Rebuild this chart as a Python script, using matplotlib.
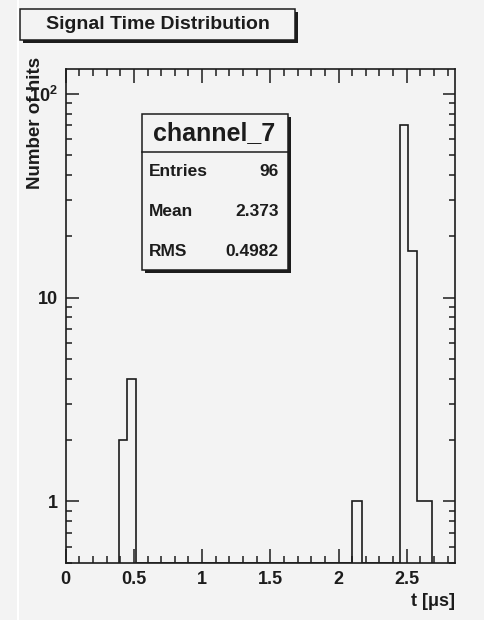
import matplotlib.pyplot as plt
import numpy as np
from matplotlib.patches import Rectangle
from matplotlib.lines import Line2D
from matplotlib.ticker import MultipleLocator, LogLocator, FixedLocator, FixedFormatter, NullFormatter

# histogram (bin edges in microseconds, counts per bin)
bin_edges = [0.391, 0.452, 0.515, 2.101, 2.170, 2.451, 2.512, 2.573, 2.628, 2.683]
bin_counts = [2, 4, 0, 1, 0, 70, 17, 1, 1]

hist_name = "channel_7"
stat_names = ["Entries", "Mean", "RMS"]
stat_values = ["96", "2.373", "0.4982"]

y_ticks = [1, 10, 100]
y_ticklabels = ["1", "10", r"10$^{2}$"]
x_min, x_max = 0.0, 2.854
y_min, y_max = 0.5, 132.0

W, H = 484, 620
BG = "#f3f3f3"
INK = "#1c1c1c"

plt.rcParams["font.family"] = ["Liberation Sans", "DejaVu Sans"]
plt.rcParams["font.weight"] = "bold"
plt.rcParams["mathtext.fontset"] = "custom"
plt.rcParams["mathtext.rm"] = "Liberation Sans:bold"
plt.rcParams["mathtext.default"] = "rm"


def fx(px):
    return px / W


def fy(py):
    return 1 - py / H


def boxed(fig, x0, y0, x1, y1, shadow=3):
    # ROOT style pave: dark shadow to the lower right, then the framed box
    fig.patches.append(Rectangle((fx(x0 + shadow), fy(y1 + shadow)), fx(x1 - x0), (y1 - y0) / H,
                                 transform=fig.transFigure, facecolor=INK, edgecolor=INK, lw=0))
    fig.patches.append(Rectangle((fx(x0), fy(y1)), fx(x1 - x0), (y1 - y0) / H,
                                 transform=fig.transFigure, facecolor=BG, edgecolor=INK, lw=1.1))


fig = plt.figure(figsize=(W / 100, H / 100), dpi=100, facecolor=BG)
fig.lines.append(Line2D([fx(18), fx(18)], [0, 1], transform=fig.transFigure, color="white", lw=1.5))

ax = fig.add_axes([fx(65.7), fy(562.7), fx(455 - 65.7), (562.7 - 69.3) / H])
ax.set_facecolor(BG)

counts = np.array(bin_counts, dtype=float)
counts = np.where(counts > 0, counts, y_min)
ax.stairs(counts, bin_edges, baseline=y_min, color=INK, lw=1.2)

ax.set_yscale("log")
ax.set_xlim(x_min, x_max)
ax.set_ylim(y_min, y_max)

ax.xaxis.set_major_locator(MultipleLocator(0.5))
ax.xaxis.set_minor_locator(MultipleLocator(0.1))
ax.xaxis.set_major_formatter(plt.FuncFormatter(lambda v, p: f"{v:g}"))
ax.yaxis.set_major_locator(FixedLocator(y_ticks))
ax.yaxis.set_major_formatter(FixedFormatter(y_ticklabels))
ax.yaxis.set_minor_locator(LogLocator(base=10, subs=np.arange(2, 10)))
ax.yaxis.set_minor_formatter(NullFormatter())

for s in ax.spines.values():
    s.set_linewidth(1.2)
    s.set_color(INK)
ax.tick_params(axis="x", which="both", direction="in", top=True, bottom=True, color=INK, width=1.1,
               labelsize=13, pad=6, labelcolor=INK)
ax.tick_params(axis="x", which="major", length=10)
ax.tick_params(axis="x", which="minor", length=5)
ax.tick_params(axis="y", which="both", direction="in", left=True, right=True, color=INK, width=1.1,
               labelsize=13, pad=5.5, labelcolor=INK)
ax.tick_params(axis="y", which="major", length=9)
ax.tick_params(axis="y", which="minor", length=4.5)

# axis titles placed like ROOT: at the far ends of the axes
fig.text(fx(35), fy(57), "Number of hits", rotation=90, ha="center", va="top",
         fontsize=13.5, fontweight="bold", color=INK)
fig.text(fx(455), fy(602), "t [\u03bcs]", ha="right", va="center",
         fontsize=13, fontweight="bold", color=INK)

# title pave
boxed(fig, 20, 9, 295, 40)
fig.text(fx(157.5), fy(24.5), "Signal Time Distribution", ha="center", va="center",
         fontsize=14, fontweight="bold", color=INK)

# stats pave
boxed(fig, 142.3, 114, 287.7, 270)
fig.lines.append(Line2D([fx(142.3), fx(287.7)], [fy(152.3), fy(152.3)], transform=fig.transFigure,
                        color=INK, lw=1.1))
fig.text(fx(214.5), fy(133), hist_name, ha="center", va="center", fontsize=18, fontweight="bold", color=INK)
for i, (nm, val) in enumerate(zip(stat_names, stat_values)):
    yy = 171.7 + 40 * i
    fig.text(fx(149), fy(yy), nm, ha="left", va="center", fontsize=12.5, fontweight="bold", color=INK)
    fig.text(fx(279), fy(yy), val, ha="right", va="center", fontsize=12.5, fontweight="bold", color=INK)

plt.savefig("out.png", dpi=100, facecolor=BG)
